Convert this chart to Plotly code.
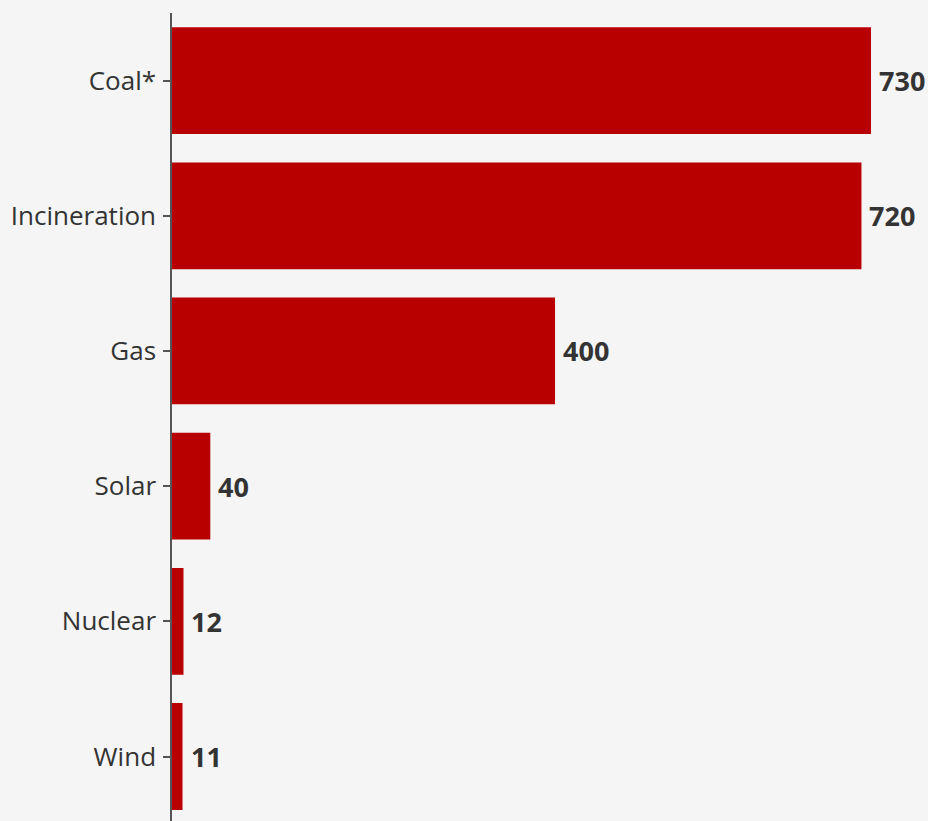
import plotly.graph_objects as go

categories = ["Coal*", "Incineration", "Gas", "Solar", "Nuclear", "Wind"]
values = [730, 720, 400, 40, 12, 11]
value_labels = ["730", "720", "400", "40", "12", "11"]

BAR = "#b80000"
BG = "#f5f5f5"

fig = go.Figure(go.Bar(
    x=values, y=categories, orientation="h",
    marker=dict(color=BAR, line=dict(width=0)),
    hoverinfo="skip",
))

for v, c, t in zip(values, categories, value_labels):
    fig.add_annotation(x=v, y=c, text="<b>%s</b>" % t, showarrow=False,
                       xanchor="left", yanchor="middle", xshift=6,
                       font=dict(family="Open Sans", size=27, color="#333333"))

fig.update_layout(
    width=928, height=821,
    margin=dict(l=172, r=0, t=13, b=0, pad=0),
    paper_bgcolor=BG, plot_bgcolor=BG,
    bargap=0.21,
    showlegend=False,
    font=dict(family="Open Sans", size=26, color="#333333"),
    xaxis=dict(range=[0, 789.5], visible=False, showgrid=False, zeroline=False),
    yaxis=dict(categoryorder="array", categoryarray=categories,
               range=[5.477, -0.5], showline=True, linecolor="#555", linewidth=1.5,
               ticks="outside", ticklen=7, tickcolor="#555", tickwidth=1.5,
               showgrid=False, zeroline=False, ticklabelstandoff=2),
)

fig.write_html("out.html", config={"displayModeBar": False},
               post_script="document.body.style.margin='0';document.body.style.overflow='hidden';document.body.style.background='%s';" % BG)
